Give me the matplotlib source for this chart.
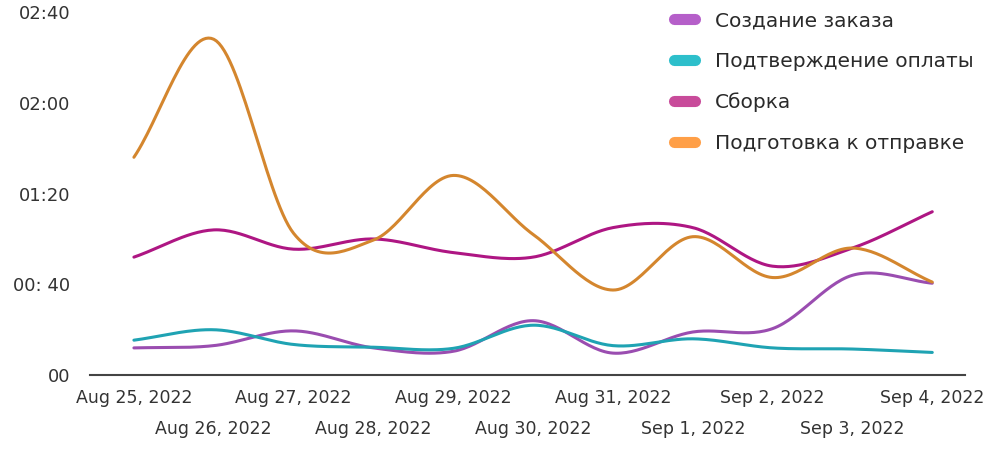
import matplotlib.pyplot as plt
from matplotlib.lines import Line2D
import numpy as np

# data: durations in minutes per day
dates = ["Aug 25, 2022", "Aug 26, 2022", "Aug 27, 2022", "Aug 28, 2022", "Aug 29, 2022",
         "Aug 30, 2022", "Aug 31, 2022", "Sep 1, 2022", "Sep 2, 2022", "Sep 3, 2022", "Sep 4, 2022"]

order_create = [12, 13, 19.5, 12, 10.5, 24, 9.7, 19, 20.5, 44, 40.5]
payment_confirm = [15.4, 20, 13.5, 12.3, 11.8, 22, 13, 16, 12, 11.5, 10]
assembly = [52, 64, 55.5, 60, 54, 52, 65, 65, 48, 56, 72]
shipping_prep = [96, 148, 62.5, 59.5, 88, 62, 37.5, 61, 43, 56, 41]

series_names = ["Создание заказа", "Подтверждение оплаты", "Сборка", "Подготовка к отправке"]
line_colors = ["#9A4DB0", "#1FA3B3", "#AE1683", "#D4862E"]
legend_colors = ["#B55FC9", "#2DBFCB", "#C84B9A", "#FF9F47"]

ytick_vals = [0, 40, 80, 120, 160]
ytick_labels = ["00", "00: 40", "01:20", "02:00", "02:40"]


def catmull_rom(y, n=30):
    # smooth curve through points (same look as the dashboard spline)
    y = np.asarray(y, dtype=float)
    x = np.arange(len(y), dtype=float)
    m = np.zeros_like(y)
    m[1:-1] = (y[2:] - y[:-2]) / 2
    m[0] = y[1] - y[0]
    m[-1] = y[-1] - y[-2]
    xs, ys = [], []
    for i in range(len(y) - 1):
        t = np.linspace(0, 1, n, endpoint=False)
        h00 = 2 * t**3 - 3 * t**2 + 1
        h10 = t**3 - 2 * t**2 + t
        h01 = -2 * t**3 + 3 * t**2
        h11 = t**3 - t**2
        xs.append(x[i] + t)
        ys.append(h00 * y[i] + h10 * m[i] + h01 * y[i + 1] + h11 * m[i + 1])
    xs.append([x[-1]])
    ys.append([y[-1]])
    return np.concatenate(xs), np.concatenate(ys)


plt.rcParams['font.family'] = ['DejaVu Sans']

fig = plt.figure(figsize=(10, 4.66), dpi=100)
ax = fig.add_axes([0.09, 0.195, 0.875, 0.805])

all_series = [order_create, payment_confirm, assembly, shipping_prep]
for vals, col in zip(all_series, line_colors):
    sx, sy = catmull_rom(vals)
    ax.plot(sx, sy, color=col, lw=2.2, solid_capstyle='round')

ax.set_xlim(-0.55, 10.41)
ax.set_ylim(0, 165.3)

ax.set_yticks(ytick_vals)
ax.set_yticklabels(ytick_labels, fontsize=13, color="#333333")

# even dates on the first row, odd dates on the second row
idx = np.arange(len(dates))
ax.set_xticks(idx[::2])
ax.set_xticklabels(dates[::2], fontsize=12.5, color="#333333")
ax.set_xticks(idx[1::2], minor=True)
ax.set_xticklabels(dates[1::2], minor=True, fontsize=12.5, color="#333333")
ax.tick_params(axis='y', length=0, pad=14)
ax.tick_params(axis='x', which='major', length=0, pad=10)
ax.tick_params(axis='x', which='minor', length=0, pad=32)

for s in ["top", "right", "left"]:
    ax.spines[s].set_visible(False)
ax.spines["bottom"].set_color("#444444")
ax.spines["bottom"].set_linewidth(1.5)

handles = [Line2D([0], [0], color=c, lw=8, solid_capstyle='round') for c in legend_colors]
fig.legend(handles, series_names, loc="upper left", bbox_to_anchor=(0.6735, 0.976),
           bbox_transform=fig.transFigure, frameon=False, borderpad=0, borderaxespad=0,
           fontsize=14.5, handlelength=1.05, handletextpad=1.0, labelspacing=1.08,
           labelcolor="#2a2a2a")

fig.savefig("out.png", dpi=100)
